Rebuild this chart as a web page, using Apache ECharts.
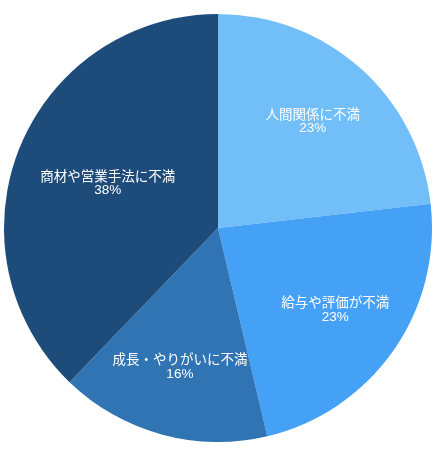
<!DOCTYPE html>
<html>
<head>
<meta charset="utf-8">
<script src="https://cdn.jsdelivr.net/npm/echarts@6/dist/echarts.min.js"></script>
<style>
html,body{margin:0;padding:0;background:#ffffff;}
#chart{width:439px;height:450px;}
</style>
</head>
<body>
<div id="chart"></div>
<script>
var categories = ['人間関係に不満', '給与や評価が不満', '成長・やりがいに不満', '商材や営業手法に不満'];
var values = [23.2, 23.1, 15.9, 37.8];
var colors = ['#72bef8', '#45a1f5', '#3174b3', '#1e4c7a'];
var labelRadiusFactor = [0.665, 0.67, 0.675, 0.555];

var cx = 218, cy = 228, R = 214;

var total = values.reduce(function (a, b) { return a + b; }, 0);
var midAngles = [];
(function () {
  var acc = 0;
  for (var i = 0; i < values.length; i++) {
    midAngles.push((acc + values[i] / 2) / total * Math.PI * 2);
    acc += values[i];
  }
})();

var chart = echarts.init(document.getElementById('chart'));
chart.setOption({
  animation: false,
  series: [{
    type: 'pie',
    center: [cx, cy],
    radius: [0, R],
    startAngle: 90,
    clockwise: true,
    percentPrecision: 0,
    itemStyle: { borderWidth: 0 },
    label: {
      show: true,
      position: 'inside',
      formatter: '{b}\n{d}%',
      color: '#ffffff',
      fontSize: 13.5,
      lineHeight: 13.5,
      fontFamily: '"Liberation Sans", "Noto Sans CJK JP", sans-serif',
      align: 'center'
    },
    labelLine: { show: false },
    emphasis: { disabled: true },
    labelLayout: function (params) {
      var i = params.dataIndex;
      var a = midAngles[i];
      var rr = R * labelRadiusFactor[i];
      return {
        x: cx + Math.sin(a) * rr,
        y: cy - Math.cos(a) * rr,
        align: 'center',
        verticalAlign: 'middle'
      };
    },
    data: categories.map(function (c, i) {
      return { name: c, value: values[i], itemStyle: { color: colors[i] } };
    })
  }]
});
</script>
</body>
</html>
